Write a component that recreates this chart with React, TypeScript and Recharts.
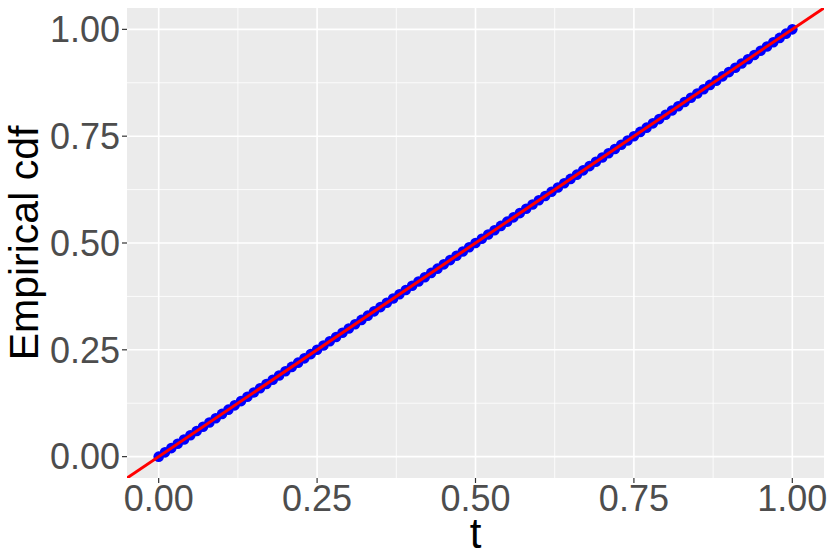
import {
  ScatterChart,
  Scatter,
  XAxis,
  YAxis,
  CartesianGrid,
  Label,
} from "recharts";

const tValues = [
  0.0, 0.01, 0.02, 0.03, 0.04, 0.05, 0.06, 0.07, 0.08, 0.09,
  0.1, 0.11, 0.12, 0.13, 0.14, 0.15, 0.16, 0.17, 0.18, 0.19,
  0.2, 0.21, 0.22, 0.23, 0.24, 0.25, 0.26, 0.27, 0.28, 0.29,
  0.3, 0.31, 0.32, 0.33, 0.34, 0.35, 0.36, 0.37, 0.38, 0.39,
  0.4, 0.41, 0.42, 0.43, 0.44, 0.45, 0.46, 0.47, 0.48, 0.49,
  0.5, 0.51, 0.52, 0.53, 0.54, 0.55, 0.56, 0.57, 0.58, 0.59,
  0.6, 0.61, 0.62, 0.63, 0.64, 0.65, 0.66, 0.67, 0.68, 0.69,
  0.7, 0.71, 0.72, 0.73, 0.74, 0.75, 0.76, 0.77, 0.78, 0.79,
  0.8, 0.81, 0.82, 0.83, 0.84, 0.85, 0.86, 0.87, 0.88, 0.89,
  0.9, 0.91, 0.92, 0.93, 0.94, 0.95, 0.96, 0.97, 0.98, 0.99,
  1.0,
];

const cdfValues = [
  0.0, 0.01, 0.02, 0.03, 0.04, 0.05, 0.06, 0.07, 0.08, 0.09,
  0.1, 0.11, 0.12, 0.13, 0.14, 0.15, 0.16, 0.17, 0.18, 0.19,
  0.2, 0.21, 0.22, 0.23, 0.24, 0.25, 0.26, 0.27, 0.28, 0.29,
  0.3, 0.31, 0.32, 0.33, 0.34, 0.35, 0.36, 0.37, 0.38, 0.39,
  0.4, 0.41, 0.42, 0.43, 0.44, 0.45, 0.46, 0.47, 0.48, 0.49,
  0.5, 0.51, 0.52, 0.53, 0.54, 0.55, 0.56, 0.57, 0.58, 0.59,
  0.6, 0.61, 0.62, 0.63, 0.64, 0.65, 0.66, 0.67, 0.68, 0.69,
  0.7, 0.71, 0.72, 0.73, 0.74, 0.75, 0.76, 0.77, 0.78, 0.79,
  0.8, 0.81, 0.82, 0.83, 0.84, 0.85, 0.86, 0.87, 0.88, 0.89,
  0.9, 0.91, 0.92, 0.93, 0.94, 0.95, 0.96, 0.97, 0.98, 0.99,
  1.0,
];

// y = x reference line, spanning the whole panel
const lineX = [-0.05, 1.05];
const lineY = [-0.05, 1.05];

const majorTicks = [0, 0.25, 0.5, 0.75, 1];
const minorTicks = [0.125, 0.375, 0.625, 0.875];

const points = tValues.map((t, i) => ({ t, cdf: cdfValues[i] }));
const refLine = lineX.map((t, i) => ({ t, cdf: lineY[i] }));

const FONT = "'Liberation Sans', Arial, Helvetica, sans-serif";

const Dot = (props: any) => (
  <circle cx={props.cx} cy={props.cy} r={5.3} fill="#0000FF" />
);

const XTitle = (props: any) => {
  const { x, y, width, height } = props.viewBox;
  return (
    <text
      x={x + width / 2}
      y={y + height - 6}
      textAnchor="middle"
      fill="#000000"
      fontSize={42}
      fontFamily={FONT}
    >
      t
    </text>
  );
};

const YTitle = (props: any) => {
  const { y, height } = props.viewBox;
  const cx = 24;
  const cy = y + height / 2;
  return (
    <text
      x={cx}
      y={cy}
      transform={`rotate(-90, ${cx}, ${cy})`}
      textAnchor="middle"
      dominantBaseline="central"
      fill="#000000"
      fontSize={41}
      fontFamily={FONT}
    >
      Empirical cdf
    </text>
  );
};

export default function App() {
  return (
    <div style={{ position: "absolute", left: 0, top: 0, fontFamily: FONT }}>
      <ScatterChart
        width={830}
        height={554}
        margin={{ top: 8, right: 6, bottom: 0, left: 0 }}
      >
        <CartesianGrid
          fill="#EBEBEB"
          stroke="#FFFFFF"
          strokeWidth={0.8}
          horizontalValues={minorTicks}
          verticalValues={minorTicks}
        />
        <CartesianGrid
          stroke="#FFFFFF"
          strokeWidth={1.6}
          horizontalValues={majorTicks}
          verticalValues={majorTicks}
        />
        <XAxis
          type="number"
          dataKey="t"
          domain={[-0.05, 1.05]}
          ticks={majorTicks}
          tickFormatter={(v: number) => v.toFixed(2)}
          allowDataOverflow
          height={76}
          axisLine={false}
          tickSize={5}
          tickLine={{ stroke: "#333333", strokeWidth: 1.2 }}
          tick={{ fill: "#4D4D4D", fontSize: 36, fontFamily: FONT }}
        >
          <Label content={XTitle} />
        </XAxis>
        <YAxis
          type="number"
          dataKey="cdf"
          domain={[-0.05, 1.05]}
          ticks={majorTicks}
          tickFormatter={(v: number) => v.toFixed(2)}
          allowDataOverflow
          width={127}
          axisLine={false}
          tickSize={5}
          tickLine={{ stroke: "#333333", strokeWidth: 1.2 }}
          tick={{ fill: "#4D4D4D", fontSize: 36, fontFamily: FONT }}
        >
          <Label content={YTitle} />
        </YAxis>
        <Scatter
          data={points}
          shape={Dot}
          isAnimationActive={false}
        />
        <Scatter
          data={refLine}
          line={{ stroke: "#FF0000", strokeWidth: 3 }}
          shape={() => <g />}
          isAnimationActive={false}
        />
      </ScatterChart>
    </div>
  );
}
